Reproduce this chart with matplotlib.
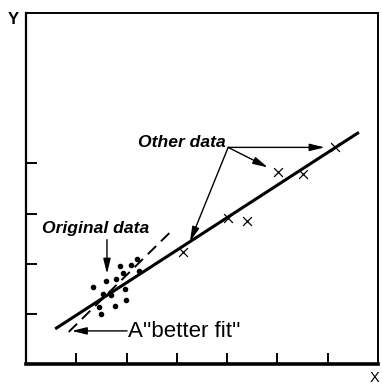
import matplotlib
matplotlib.use("Agg")
import matplotlib.pyplot as plt

# Original (clustered) observations
orig_x = [1.86, 2.08, 2.20, 1.92, 1.79, 1.59, 2.24, 1.34, 1.53, 1.70, 1.97, 1.98, 1.77, 1.45, 1.49]
orig_y = [1.95, 1.97, 2.10, 1.81, 1.69, 1.66, 1.85, 1.53, 1.39, 1.38, 1.49, 1.27, 1.15, 1.13, 0.99]

# Additional observations spread along the wider range
other_x = [3.12, 4.02, 4.39, 5.01, 5.51, 6.14]
other_y = [2.24, 2.92, 2.86, 3.82, 3.78, 4.32]

# Fitted line through all data, and the steeper "better fit" to the original cluster
fit_x = [0.58, 6.62]
fit_y = [0.70, 4.62]
better_x = [0.85, 2.92]
better_y = [0.64, 2.68]

x_ticks = [1, 2, 3, 4, 5, 6]
y_ticks = [1, 2, 3, 4]

fig = plt.figure(figsize=(3.82, 3.84), dpi=100)
ax = fig.add_axes([26 / 382, 20 / 384, 352 / 382, 351 / 384])
ax.set_xlim(0, 7)
ax.set_ylim(0, 7)

ax.plot(fit_x, fit_y, color="black", lw=2.2, solid_capstyle="butt")
ax.plot(better_x, better_y, color="black", lw=1.4, dashes=(6, 3.5))
ax.scatter(orig_x, orig_y, s=9, color="black", zorder=3)
ax.scatter(other_x, other_y, marker="x", s=40, color="black", lw=0.9, zorder=3)

ax.set_xticks(x_ticks)
ax.set_yticks(y_ticks)
ax.set_xticklabels([])
ax.set_yticklabels([])
ax.tick_params(direction="in", length=8, width=1.4, color="black")
for side in ("top", "right"):
    ax.spines[side].set_linewidth(1.4)
ax.spines["left"].set_linewidth(1.6)
ax.spines["bottom"].set_linewidth(2.6)

font_it = dict(family="Liberation Sans", weight="bold", style="italic", fontsize=12.6)
arrow = dict(arrowstyle="-|>,head_length=0.9,head_width=0.22", color="black", lw=1.0,
             shrinkA=0, shrinkB=0)

ax.text(0.32, 2.70, "Original data", ha="left", va="center", **font_it)
ax.annotate("", xy=(1.61, 1.80), xytext=(1.61, 2.48), arrowprops=arrow)

ax.text(2.23, 4.42, "Other data", ha="left", va="center", **font_it)
tail = (4.02, 4.32)
for head in [(5.94, 4.32), (4.81, 3.92), (3.26, 2.44)]:
    ax.annotate("", xy=head, xytext=tail, arrowprops=arrow)

ax.text(2.03, 0.64, "A''better fit''", ha="left", va="center",
        family="Liberation Sans", fontsize=16)
ax.annotate("", xy=(0.91, 0.66), xytext=(2.01, 0.66), arrowprops=arrow)

fig.text(13 / 382, 1 - 20 / 384, "Y", ha="center", va="center",
         family="Liberation Sans", weight="bold", fontsize=12)
fig.text(375 / 382, 1 - 378 / 384, "X", ha="center", va="center",
         family="Liberation Sans", fontsize=10.5)

fig.savefig("out.png", dpi=100)
